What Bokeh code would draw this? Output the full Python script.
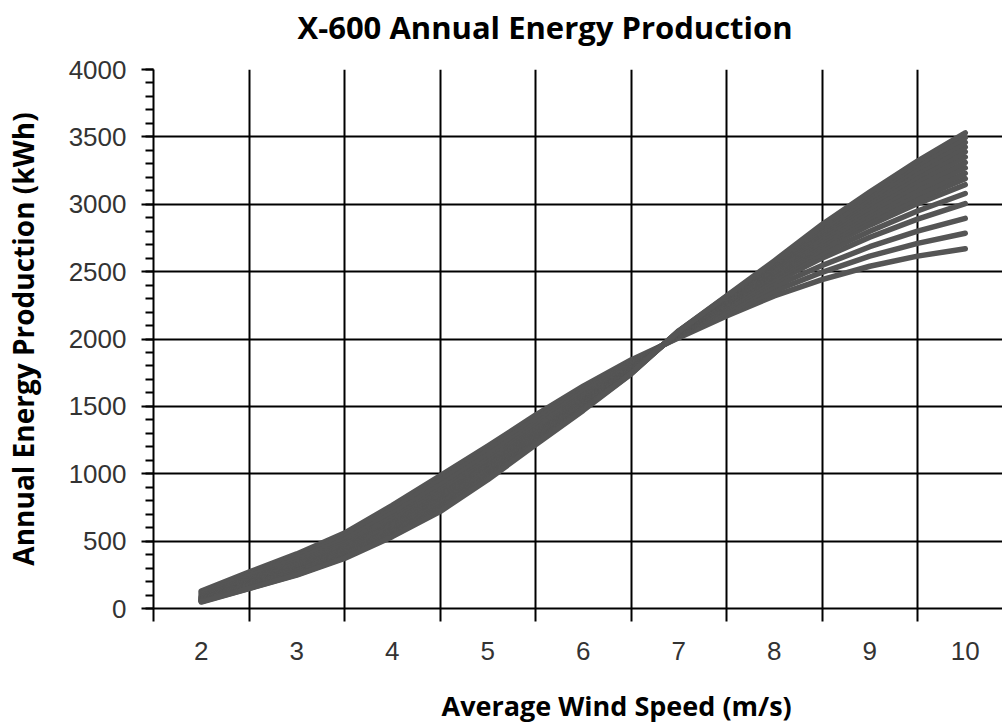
from bokeh.plotting import figure
from bokeh.models import FixedTicker, Range1d, Title
from bokeh.embed import file_html
from bokeh.resources import INLINE

# Average wind speed (m/s)
wind_speed = [2, 2.5, 3, 3.5, 4, 4.5, 5, 5.5, 6, 6.5, 7, 7.5, 8, 8.5, 9, 9.5, 10]

# Annual energy production (kWh), one list per curve
aep_01 = [130, 270, 405, 560, 765, 985, 1205, 1435, 1650, 1845, 2010, 2170, 2320, 2440, 2540, 2615, 2670]
aep_02 = [120, 255, 385, 535, 735, 950, 1170, 1405, 1625, 1830, 2015, 2190, 2355, 2495, 2615, 2710, 2785]
aep_03 = [110, 240, 365, 510, 705, 915, 1140, 1375, 1605, 1815, 2025, 2210, 2390, 2545, 2685, 2800, 2895]
aep_04 = [100, 220, 345, 485, 675, 880, 1105, 1350, 1580, 1805, 2030, 2230, 2420, 2600, 2755, 2890, 3005]
aep_05 = [90, 210, 330, 470, 655, 860, 1085, 1330, 1565, 1795, 2035, 2240, 2445, 2635, 2800, 2950, 3080]
aep_06 = [85, 205, 320, 455, 635, 840, 1065, 1315, 1550, 1785, 2040, 2255, 2465, 2665, 2845, 3005, 3145]
aep_07 = [80, 195, 310, 445, 625, 825, 1055, 1300, 1540, 1780, 2040, 2260, 2475, 2690, 2875, 3040, 3190]
aep_08 = [75, 190, 300, 440, 615, 810, 1040, 1290, 1535, 1775, 2045, 2270, 2490, 2705, 2900, 3075, 3230]
aep_09 = [70, 185, 295, 430, 605, 800, 1030, 1280, 1525, 1770, 2045, 2275, 2500, 2725, 2925, 3105, 3270]
aep_10 = [68, 180, 285, 420, 590, 785, 1020, 1270, 1515, 1765, 2050, 2280, 2515, 2745, 2950, 3140, 3310]
aep_11 = [65, 175, 280, 410, 580, 775, 1005, 1260, 1510, 1760, 2050, 2290, 2525, 2765, 2975, 3175, 3350]
aep_12 = [60, 170, 275, 405, 570, 760, 995, 1250, 1500, 1755, 2055, 2295, 2540, 2785, 3000, 3205, 3390]
aep_13 = [58, 165, 265, 395, 560, 750, 985, 1240, 1490, 1750, 2055, 2305, 2550, 2800, 3025, 3235, 3425]
aep_14 = [55, 155, 260, 385, 550, 740, 975, 1235, 1485, 1745, 2058, 2310, 2560, 2815, 3045, 3265, 3460]
aep_15 = [52, 150, 252, 378, 540, 730, 965, 1225, 1478, 1742, 2060, 2315, 2570, 2835, 3070, 3295, 3495]
aep_16 = [48, 148, 247, 372, 533, 719, 955, 1215, 1470, 1740, 2060, 2320, 2580, 2850, 3090, 3320, 3530]

x_tick_values = [2, 3, 4, 5, 6, 7, 8, 9, 10]
x_grid_values = [1.5, 2.5, 3.5, 4.5, 5.5, 6.5, 7.5, 8.5, 9.5, 10.5]
y_tick_values = [0, 500, 1000, 1500, 2000, 2500, 3000, 3500, 4000]
y_minor_values = list(range(0, 4001, 100))

title_text = "X-600 Annual Energy Production"
x_label = "Average Wind Speed (m/s)"
y_label = "Annual Energy Production (kWh)"

all_series = [aep_01, aep_02, aep_03, aep_04, aep_05, aep_06, aep_07, aep_08,
              aep_09, aep_10, aep_11, aep_12, aep_13, aep_14, aep_15, aep_16]

p = figure(width=1002, height=727, output_backend="svg", toolbar_location=None,
           title=None,
           x_range=Range1d(1.5, 10.39), y_range=Range1d(0, 4000),
           min_border_left=153, min_border_right=0, min_border_top=69,
           min_border_bottom=119)

p.background_fill_color = "white"
p.border_fill_color = "white"
p.outline_line_color = None

for s in all_series:
    p.line(wind_speed, s, line_width=5.5, line_color="#555555",
           line_cap="round", line_join="round")

# Chart title (with a spacer between it and the plot area)
p.add_layout(Title(text=" ", text_font_size="1px", standoff=19), "above")
p.add_layout(Title(text=title_text, text_font="Open Sans", text_font_style="bold",
                   text_font_size="31px", text_color="black",
                   align="left", offset=144, standoff=0,
                   vertical_align="bottom"), "above")

# x axis
xa = p.xaxis[0]
xa.ticker = FixedTicker(ticks=x_tick_values, minor_ticks=x_grid_values)
xa.major_tick_line_color = None
xa.major_tick_out = 13
xa.major_tick_in = 0
xa.minor_tick_out = 13
xa.minor_tick_in = 0
xa.minor_tick_line_color = "black"
xa.minor_tick_line_width = 2
xa.axis_line_color = "black"
xa.axis_line_width = 2
xa.major_label_text_font = "Liberation Sans"
xa.major_label_text_font_size = "26px"
xa.major_label_text_color = "#333333"
xa.major_label_standoff = 20

# x axis title (with a spacer under the tick labels)
p.add_layout(Title(text=" ", text_font_size="1px", standoff=21), "below")
p.add_layout(Title(text=x_label, text_font="Open Sans", text_font_style="bold",
                   text_font_size="27px", text_color="black",
                   align="left", offset=288, standoff=0,
                   vertical_align="top"), "below")

# y axis
ya = p.yaxis[0]
ya.ticker = FixedTicker(ticks=y_tick_values, minor_ticks=y_minor_values)
ya.major_tick_out = 12
ya.major_tick_in = 0
ya.major_tick_line_color = "black"
ya.major_tick_line_width = 2
ya.minor_tick_out = 8
ya.minor_tick_in = 0
ya.minor_tick_line_color = "black"
ya.minor_tick_line_width = 2
ya.axis_line_color = "black"
ya.axis_line_width = 2
ya.major_label_text_font = "Liberation Sans"
ya.major_label_text_font_size = "26px"
ya.major_label_text_color = "#333333"
ya.major_label_standoff = 15
ya.axis_label = y_label
ya.axis_label_text_font = "Open Sans"
ya.axis_label_text_font_style = "bold"
ya.axis_label_text_font_size = "28px"
ya.axis_label_text_color = "black"
ya.axis_label_standoff = 24

# grids
p.xgrid.ticker = FixedTicker(ticks=x_grid_values)
p.xgrid.grid_line_color = "black"
p.xgrid.grid_line_width = 2
p.ygrid.ticker = FixedTicker(ticks=y_tick_values)
p.ygrid.grid_line_color = "black"
p.ygrid.grid_line_width = 2

with open("out.html", "w") as f:
    f.write(file_html(p, INLINE))
